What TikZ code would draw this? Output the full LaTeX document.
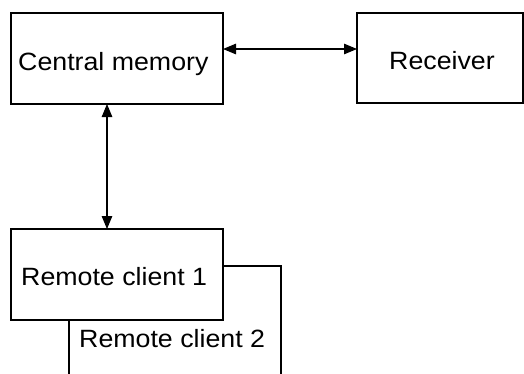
\documentclass[tikz,border=0pt]{standalone}
\usepackage{fontspec}
\setmainfont{Liberation Sans}[FakeStretch=1.07]
\usetikzlibrary{arrows.meta}
\tikzset{
  boxnode/.style={draw, line width=1.3pt, fill=white, inner sep=0pt, outer sep=0pt},
  lbl/.style={anchor=base west, inner sep=0pt, font=\fontsize{25}{29}\selectfont},
  conn/.style={line width=1.1pt, {Triangle[length=13pt,width=10.5pt]}-{Triangle[length=13pt,width=10.5pt]}}
}
\begin{document}
\begin{tikzpicture}[x=1pt,y=-1pt]
\useasboundingbox (0,0) rectangle (524,373);
\clip (0,0) rectangle (524,373);
% boxes
\node[boxnode, minimum width=212pt, minimum height=91pt] (cm) at (117,58.5) {};
\node[boxnode, minimum width=166pt, minimum height=90pt] (rec) at (440,58) {};
\node[boxnode, minimum width=212pt, minimum height=134pt, anchor=north west] (rc2) at (69,266) {};
\node[lbl] (t4) at (79,347) {Remote client 2};
\node[boxnode, minimum width=212pt, minimum height=91pt] (rc1) at (117,274.5) {};
% texts
\node[lbl] (t1) at (18,70) {Central memory};
\node[lbl] (t2) at (389,69) {Receiver};
\node[lbl] (t3) at (21,285) {Remote client 1};
% connectors
\coordinate (h1) at (cm.east |- 0,49);
\coordinate (h2) at (rec.west |- 0,49);
\draw[conn] (h1) -- (h2);
\draw[conn] (cm.south -| 107,0) -- (rc1.north -| 107,0);
\end{tikzpicture}
\end{document}
